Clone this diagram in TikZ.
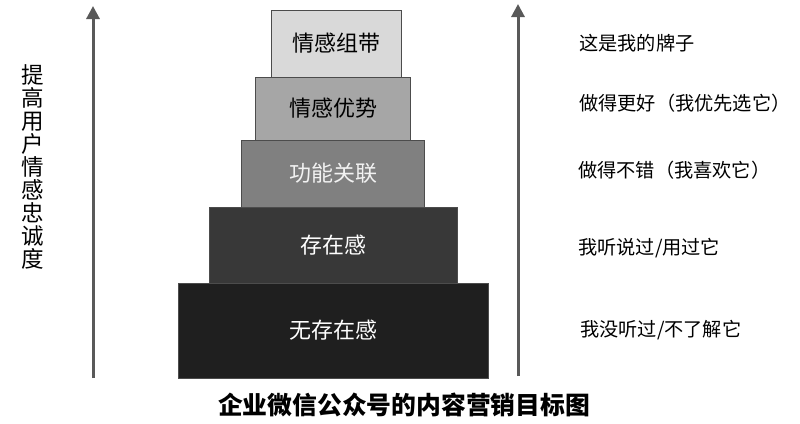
\documentclass[tikz,border=0pt]{standalone}
\usepackage{fontspec}
\setmainfont{Noto Sans CJK SC}
\usetikzlibrary{arrows.meta,positioning}

\begin{document}
\begin{tikzpicture}[x=1pt,y=-1pt]
\tikzstyle{tier} = [rectangle, draw=black!70, line width=1pt, text centered,
inner sep=0pt, font=\fontsize{22}{26}\selectfont]
\tikzstyle{line} = [draw, line width=3pt, color=black!65,
-{Triangle[length=13pt,width=13pt]}]
\tikzstyle{note} = [anchor=west, inner sep=0pt, font=\fontsize{19.2}{23}\selectfont]
\useasboundingbox (0,0) rectangle (800,423);
% pyramid, bottom to top
\node [tier, fill=black!88, text=white, minimum width=310pt, minimum height=95pt] (none) at (333,330.5) {无存在感};
\node [tier, fill=black!78, text=white, minimum width=248pt, minimum height=76pt, above=-1pt of none] (exist) {存在感};
\node [tier, fill=black!50, text=black!5, minimum width=183pt, minimum height=67pt, above=-1pt of exist] (func) {功能关联};
\node [tier, fill=black!35, minimum width=155pt, minimum height=63pt, above=-1pt of func] (edge) {情感优势};
\node [tier, fill=black!15, minimum width=130pt, minimum height=67pt, above=-1pt of edge, xshift=3pt] (bond) {情感组带};
% arrows
\coordinate (lbot) at (93,378);
\coordinate (ltop) at (93,6);
\coordinate (rbot) at (518,376);
\coordinate (rtop) at (518,4);
\path [line] (lbot) -- (ltop);
\path [line] (rbot) -- (rtop);
\node [align=center, inner sep=0pt, font=\fontsize{22.5}{23}\selectfont] (loyal) at (33,166.5)
{提\\高\\用\\户\\情\\感\\忠\\诚\\度};
% right labels
\node [note] (brand) at (579,43) {这是我的牌子};
\node [note] (prefer) at (579,103) {做得更好（我优先选它）};
\node [note] (like) at (578,170) {做得不错（我喜欢它）};
\node [note] (heard) at (578,248) {我听说过/用过它};
\node [note] (unknown) at (580,330) {我没听过/不了解它};
% title
\node [font=\fontsize{24.8}{28}\selectfont\bfseries] (title) at (404,405) {企业微信公众号的内容营销目标图};
\end{tikzpicture}
\end{document}
